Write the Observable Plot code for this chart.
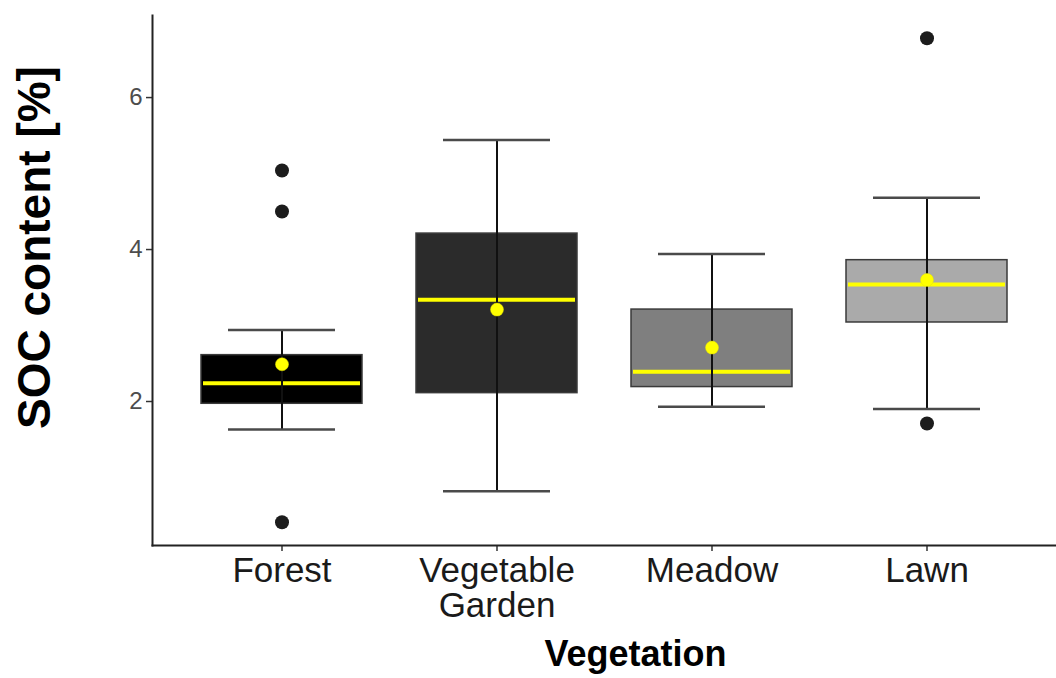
<!DOCTYPE html>
<html>
<head>
<meta charset="utf-8">
<script src="https://cdn.jsdelivr.net/npm/d3@7"></script>
<script src="https://cdn.jsdelivr.net/npm/@observablehq/plot@0.6"></script>
<style>
  html, body { margin: 0; padding: 0; background: #ffffff; }
  #chart { width: 1056px; height: 678px; }
</style>
</head>
<body>
<div id="chart"></div>
<script>
// ---- data ----
const categories   = ["Forest", "Vegetable Garden", "Meadow", "Lawn"];
const q1           = [1.97, 2.11, 2.19, 3.04];
const medians      = [2.24, 3.34, 2.39, 3.54];
const q3           = [2.61, 4.21, 3.21, 3.86];
const whiskerLow   = [1.63, 0.82, 1.93, 1.90];
const whiskerHigh  = [2.94, 5.44, 3.94, 4.68];
const means        = [2.49, 3.21, 2.71, 3.60];
const boxFills     = ["#000000", "#2b2b2b", "#7f7f7f", "#aaaaaa"];
const outlierCats  = ["Forest", "Forest", "Forest", "Lawn", "Lawn"];
const outlierVals  = [5.04, 4.50, 0.41, 6.78, 1.71];
const yTicks       = [2, 4, 6];
const yDomain      = [0.105, 7.08];
const xTitle       = "Vegetation";
const yTitle       = "SOC content [%]";

// ---- tables built from the arrays ----
const boxes = categories.map((c, i) => ({
  cat: c, q1: q1[i], median: medians[i], q3: q3[i],
  lo: whiskerLow[i], hi: whiskerHigh[i], mean: means[i], fill: boxFills[i]
}));
const outliers = outlierCats.map((c, i) => ({cat: c, v: outlierVals[i]}));

const chart = Plot.plot({
  width: 1056,
  height: 678,
  marginLeft: 152,
  marginRight: 0,
  marginTop: 15,
  marginBottom: 133,
  style: {fontFamily: "'Liberation Sans', Arial, sans-serif", background: "#ffffff", overflow: "visible"},
  x: {type: "band", domain: categories, paddingInner: 0.25, paddingOuter: 0.224, label: null},
  y: {domain: yDomain, label: null},
  marks: [
    // boxes
    Plot.barY(boxes, {x: "cat", y1: "q1", y2: "q3", fill: "fill", stroke: "#3a3a3a", strokeWidth: 1.5}),
    // median
    Plot.tickY(boxes, {x: "cat", y: "median", stroke: "#ffff00", strokeWidth: 4, insetLeft: 2, insetRight: 2}),
    // whisker line
    Plot.ruleX(boxes, {x: "cat", y1: "lo", y2: "hi", stroke: "#111111", strokeWidth: 2}),
    // whisker caps
    Plot.tickY(boxes, {x: "cat", y: "lo", stroke: "#4a4a4a", strokeWidth: 2.5, insetLeft: 27, insetRight: 27}),
    Plot.tickY(boxes, {x: "cat", y: "hi", stroke: "#4a4a4a", strokeWidth: 2.5, insetLeft: 27, insetRight: 27}),
    // mean dot
    Plot.dot(boxes, {x: "cat", y: "mean", r: 6.5, fill: "#ffff00", stroke: "#e6e600", strokeWidth: 0.5}),
    // outliers
    Plot.dot(outliers, {x: "cat", y: "v", r: 7, fill: "#1c1c1c"}),
    // axes
    Plot.axisY({ticks: yTicks, tickFormat: d3.format("d"), tickSize: 6, tickPadding: 4, fontSize: 24, fill: "#4d4d4d", stroke: "#333333", strokeWidth: 1.5, label: null}),
    Plot.axisX({tickSize: 6, tickPadding: 6, fontSize: 35, lineHeight: 1, fill: "#1a1a1a", stroke: "#333333", strokeWidth: 1.5, label: null,
                tickFormat: d => d.replace(" ", "\n")}),
    Plot.frame({anchor: "left", stroke: "#222222", strokeWidth: 2}),
    Plot.frame({anchor: "bottom", stroke: "#222222", strokeWidth: 2}),
    // axis titles
    Plot.text([yTitle], {text: d => d, frameAnchor: "left", rotate: -90, dx: -117, dy: -33,
                         fontSize: 46, fontWeight: "bold", fill: "#000000", textAnchor: "middle", lineAnchor: "middle"}),
    Plot.text([xTitle], {text: d => d, frameAnchor: "bottom", dx: 31, dy: 109,
                         fontSize: 36, fontWeight: "bold", fill: "#000000", textAnchor: "middle", lineAnchor: "middle"})
  ]
});
document.getElementById("chart").appendChild(chart);
</script>
</body>
</html>
